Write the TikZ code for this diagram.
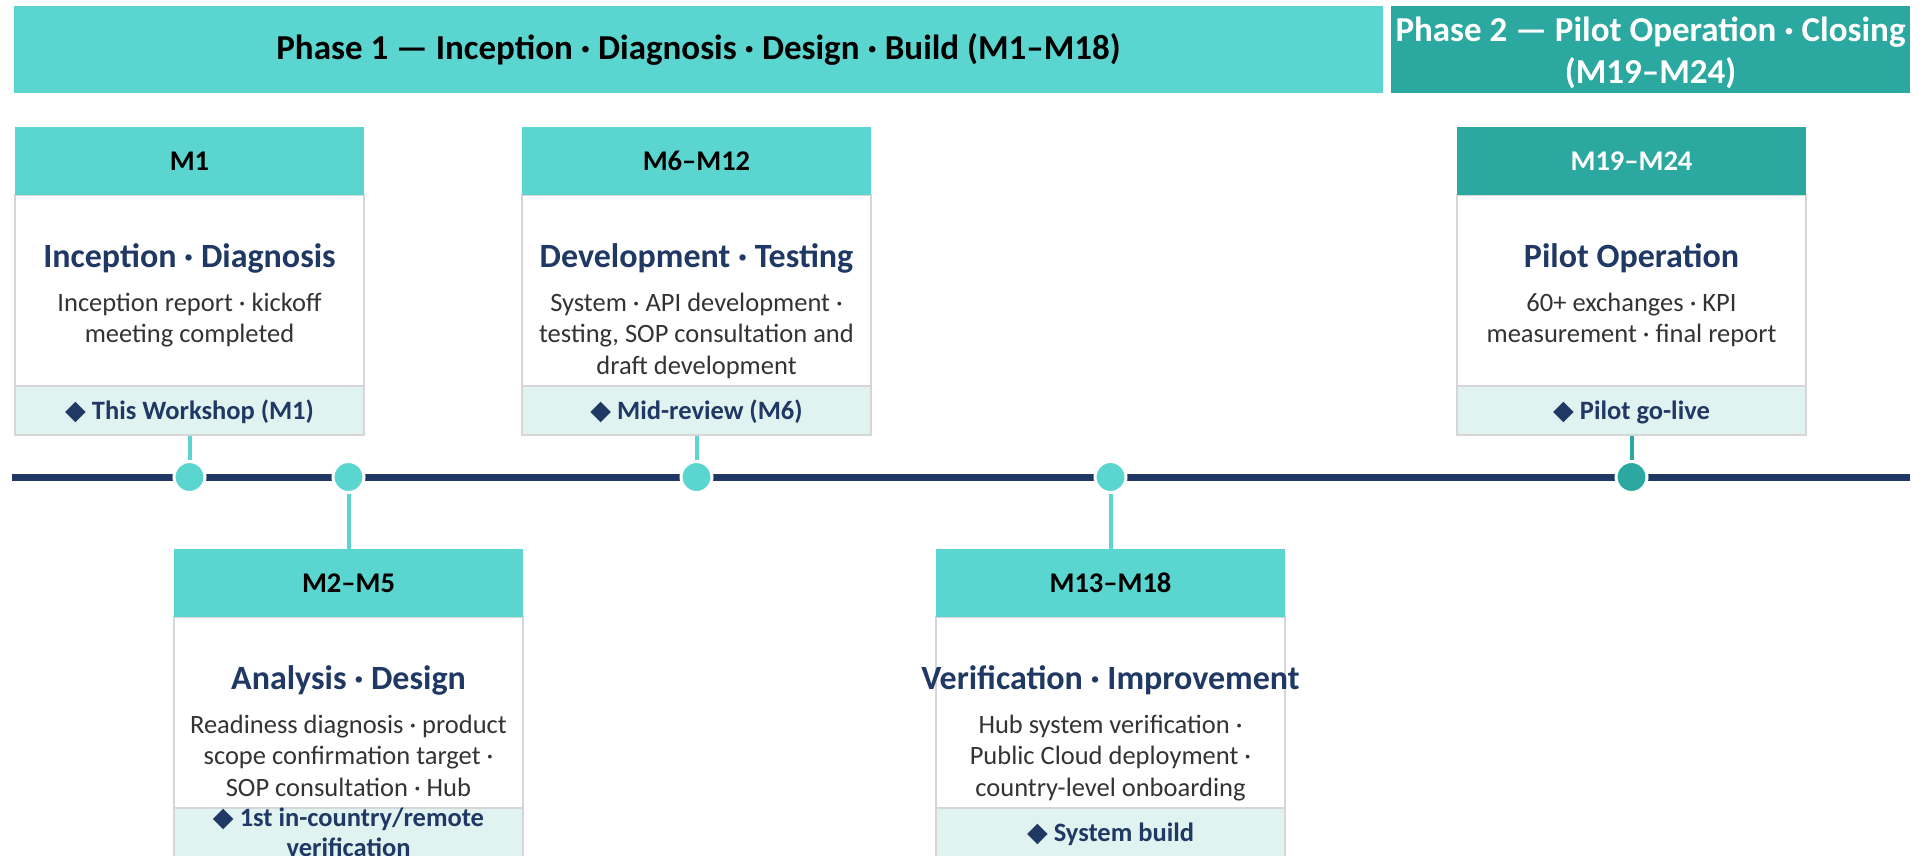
\documentclass[tikz,border=0pt]{standalone}
\usepackage{fontspec}
\setmainfont{Carlito}
\newfontfamily\symfont{DejaVu Sans}
\definecolor{turq}{HTML}{5BD5CF}
\definecolor{teal2}{HTML}{2BA8A0}
\definecolor{navy}{HTML}{1F3864}
\definecolor{ftrfill}{HTML}{E1F3F1}
\definecolor{bordergray}{HTML}{D6D6D6}
\definecolor{bodygray}{HTML}{333333}
\newcommand\dmd{{\symfont\fontsize{27}{27}\selectfont ◆}}
\newcommand\fstrut{\rule[-4pt]{0pt}{26pt}}
\newcommand\msbox[9]{%
  \node[bodybox] (#1-bd) at ({#2+174.5},{#3+188}) {};
  \node[hdr, fill=#4, text=#5] (#1-h) at ({#2+174.5},{#3+34}) {#6};
  \node[ttl] (#1-t) at ({#2+174.5},{#3+140}) {#7};
  \node[bodytxt] (#1-b) at ({#2+174.5},{#3+184-22.05}) {\strut#8};
  \node[ftrbox] (#1-f) at ({#2+174.5},{#3+283.5}) {};
  \node[ftrtxt] (#1-ft) at (#1-f.center) {#9};
}
\begin{document}
\begin{tikzpicture}[x=1pt,y=-1pt,
  phase/.style={rectangle, inner sep=0pt, align=center, font=\fontsize{35}{42}\selectfont\bfseries},
  hdr/.style={rectangle, minimum width=349pt, minimum height=68pt, inner sep=0pt, font=\fontsize{28.5}{34}\selectfont\bfseries},
  ttl/.style={anchor=base, inner sep=0pt, font=\fontsize{34}{40}\selectfont\bfseries, text=navy},
  bodytxt/.style={anchor=north, inner sep=0pt, align=center, font=\fontsize{26.5}{31.5}\selectfont, text=bodygray},
  bodybox/.style={rectangle, minimum width=349pt, minimum height=240pt, inner sep=0pt, fill=white, draw=bordergray, line width=1.2pt},
  ftrbox/.style={rectangle, minimum width=349pt, minimum height=49pt, inner sep=0pt, fill=ftrfill, draw=bordergray, line width=1.2pt},
  ftrtxt/.style={inner sep=0pt, align=center, font=\fontsize{26.5}{30}\selectfont\bfseries, text=navy},
  dot/.style={circle, minimum size=31pt, inner sep=0pt, draw=white, line width=3pt},
  conn/.style={line width=4pt}]
\fill[white] (0,0) rectangle (1927,855);
\useasboundingbox (0,0) rectangle (1927,855);
% phase banners
\node[phase, fill=turq, text=black, minimum width=1369pt, minimum height=87pt] (p1) at (698.5,49.5)
  {Phase 1 — Inception · Diagnosis · Design · Build (M1–M18)};
\node[phase, fill=teal2, minimum width=519pt, minimum height=87pt] (p2) at (1650.5,49.5) {};
\node[phase, text=white] (p2t) at ([yshift=-3pt]p2.center)
  {Phase 2 — Pilot Operation · Closing\\(M19–M24)};
% timeline
\coordinate (tls) at (12,477);
\coordinate (tle) at (1910,477);
\draw[navy, line width=7pt] (tls) -- (tle);
% dots
\node[dot, fill=turq] (d1) at (189.5,477) {};
\node[dot, fill=turq] (d2) at (348.5,477) {};
\node[dot, fill=turq] (d3) at (696.5,477) {};
\node[dot, fill=turq] (d4) at (1110.5,477) {};
\node[dot, fill=teal2] (d5) at (1631.5,477) {};
% boxes
\msbox{m1}{15}{127}{turq}{black}{M1}{Inception · Diagnosis}
  {Inception report · kickoff\\meeting completed}
  {\fstrut\dmd\ This Workshop (M1)}
\msbox{m3}{522}{127}{turq}{black}{M6–M12}{Development · Testing}
  {System · API development ·\\testing, SOP consultation and\\draft development}
  {\fstrut\dmd\ Mid-review (M6)}
\msbox{m5}{1457}{127}{teal2}{white}{M19–M24}{Pilot Operation}
  {60+ exchanges · KPI\\measurement · final report}
  {\fstrut\dmd\ Pilot go-live}
\msbox{m2}{174}{549}{turq}{black}{M2–M5}{Analysis · Design}
  {Readiness diagnosis · product\\scope confirmation target ·\\SOP consultation · Hub}
  {\fstrut\dmd\ 1st in-country/remote\\verification\fstrut}
\msbox{m4}{936}{549}{turq}{black}{M13–M18}{Verification · Improvement}
  {Hub system verification ·\\Public Cloud deployment ·\\country-level onboarding}
  {\fstrut\dmd\ System build}
% connectors
\draw[conn, turq] (m1-f.south) -- (d1.north);
\draw[conn, turq] (m3-f.south) -- (d3.north);
\draw[conn, teal2] (m5-f.south) -- (d5.north);
\draw[conn, turq] (d2.south) -- (m2-h.north);
\draw[conn, turq] (d4.south) -- (m4-h.north);
\end{tikzpicture}
\end{document}
